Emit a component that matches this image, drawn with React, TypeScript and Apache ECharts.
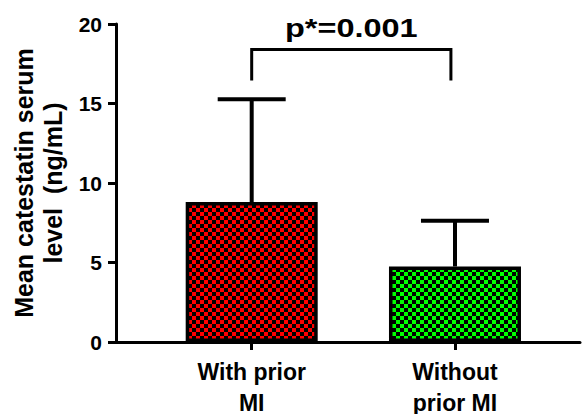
import React, { useEffect, useRef } from "react";
import * as echarts from "echarts";

// ---- data ----
const categories = ["With prior\nMI", "Without\nprior MI"];
const positions = [1, 2];
const means = [8.8, 4.75];
const sds = [6.47, 2.87];
const barColors = ["#ff0000", "#00ff00"];
const yTicks = [0, 5, 10, 15, 20];
const pLabel = "p*=0.001";
// bracket: from group 1 to group 2, top at 18.4, legs down to 16.45, label at 19.75
const bracket = [1, 1.98, 18.4, 16.45, 19.75];

function makeChecker(color: string): HTMLCanvasElement {
  const c = document.createElement("canvas");
  c.width = 8;
  c.height = 8;
  const ctx = c.getContext("2d")!;
  ctx.fillStyle = color;
  ctx.fillRect(0, 0, 8, 8);
  ctx.fillStyle = "#000000";
  ctx.fillRect(0, 0, 4, 4);
  ctx.fillRect(4, 4, 4, 4);
  return c;
}

export default function App() {
  const ref = useRef<HTMLDivElement>(null);
  useEffect(() => {
    if (!ref.current) return;
    const chart = echarts.init(ref.current, null, { renderer: "svg" });
    const font = "Liberation Sans, Arial, sans-serif";
    const barData = positions.map((p, i) => ({
      value: [p, means[i]],
      itemStyle: {
        color: {
          image: makeChecker(barColors[i]),
          repeat: "repeat",
          imageWidth: 8,
          imageHeight: 8,
        } as any,
        borderColor: "#000",
        borderWidth: 3.5,
      },
    }));
    const errData = positions.map((p, i) => [p, means[i], means[i] + sds[i]]);
    chart.setOption({
      animation: false,
      grid: { left: 116, right: 2, top: 24, bottom: 72, outerBoundsMode: "none", containLabel: false },
      xAxis: {
        type: "value",
        min: 0.3325,
        max: 2.615,
        splitLine: { show: false },
        axisLine: { show: true, lineStyle: { color: "#000", width: 3 } },
        axisTick: {
          show: true,
          customValues: positions,
          length: 8,
          lineStyle: { color: "#000", width: 3 },
        },
        axisLabel: {
          customValues: positions,
          formatter: (v: number) => categories[Math.round(v) - 1] ?? "",
          color: "#000",
          fontFamily: font,
          fontWeight: "bold",
          fontSize: 23,
          lineHeight: 31,
          margin: 14,
        },
      },
      yAxis: {
        type: "value",
        min: yTicks[0],
        max: yTicks[yTicks.length - 1],
        interval: 5,
        splitLine: { show: false },
        axisLine: { show: true, lineStyle: { color: "#000", width: 3 } },
        axisTick: { show: true, length: 8, lineStyle: { color: "#000", width: 3 } },
        axisLabel: {
          color: "#000",
          fontFamily: font,
          fontWeight: "bold",
          fontSize: 21,
          margin: 14,
        },
        name: "Mean catestatin serum\nlevel  (ng/mL)",
        nameLocation: "middle",
        nameGap: 48,
        nameTextStyle: {
          color: "#000",
          fontFamily: font,
          fontWeight: "bold",
          fontSize: 25,
          lineHeight: 29,
        },
      },
      series: [
        {
          type: "bar",
          data: barData,
          barWidth: 132,
          z: 2,
        },
        {
          type: "custom",
          z: 3,
          data: errData,
          renderItem: (params: any, api: any) => {
            const x = api.value(0);
            const base = api.coord([x, api.value(1)]);
            const top = api.coord([x, api.value(2)]);
            const half = 34;
            const style = { stroke: "#000", lineWidth: 4 };
            return {
              type: "group",
              children: [
                {
                  type: "line",
                  shape: { x1: base[0], y1: base[1], x2: top[0], y2: top[1] },
                  style,
                },
                {
                  type: "line",
                  shape: { x1: top[0] - half, y1: top[1], x2: top[0] + half, y2: top[1] },
                  style,
                },
              ],
            };
          },
        },
        {
          type: "custom",
          z: 3,
          data: [bracket],
          renderItem: (params: any, api: any) => {
            const x1 = api.value(0);
            const x2 = api.value(1);
            const yTop = api.value(2);
            const yLeg = api.value(3);
            const yLab = api.value(4);
            const a = api.coord([x1, yLeg]);
            const b = api.coord([x1, yTop]);
            const c = api.coord([x2, yTop]);
            const d = api.coord([x2, yLeg]);
            const lab = api.coord([(x1 + x2) / 2, yLab]);
            return {
              type: "group",
              children: [
                {
                  type: "polyline",
                  shape: { points: [a, b, c, d] },
                  style: { stroke: "#000", lineWidth: 3, fill: null },
                },
                {
                  type: "text",
                  x: lab[0],
                  y: lab[1],
                  scaleX: 1.3,
                  style: {
                    text: pLabel,
                    font: `bold 25px ${font}`,
                    fill: "#000",
                    textAlign: "center",
                    textVerticalAlign: "middle",
                  },
                },
              ],
            };
          },
        },
      ],
    });
    return () => chart.dispose();
  }, []);
  return (
    <div
      ref={ref}
      style={{ position: "fixed", left: 0, top: 0, width: 582, height: 414, background: "#fff" }}
    />
  );
}
